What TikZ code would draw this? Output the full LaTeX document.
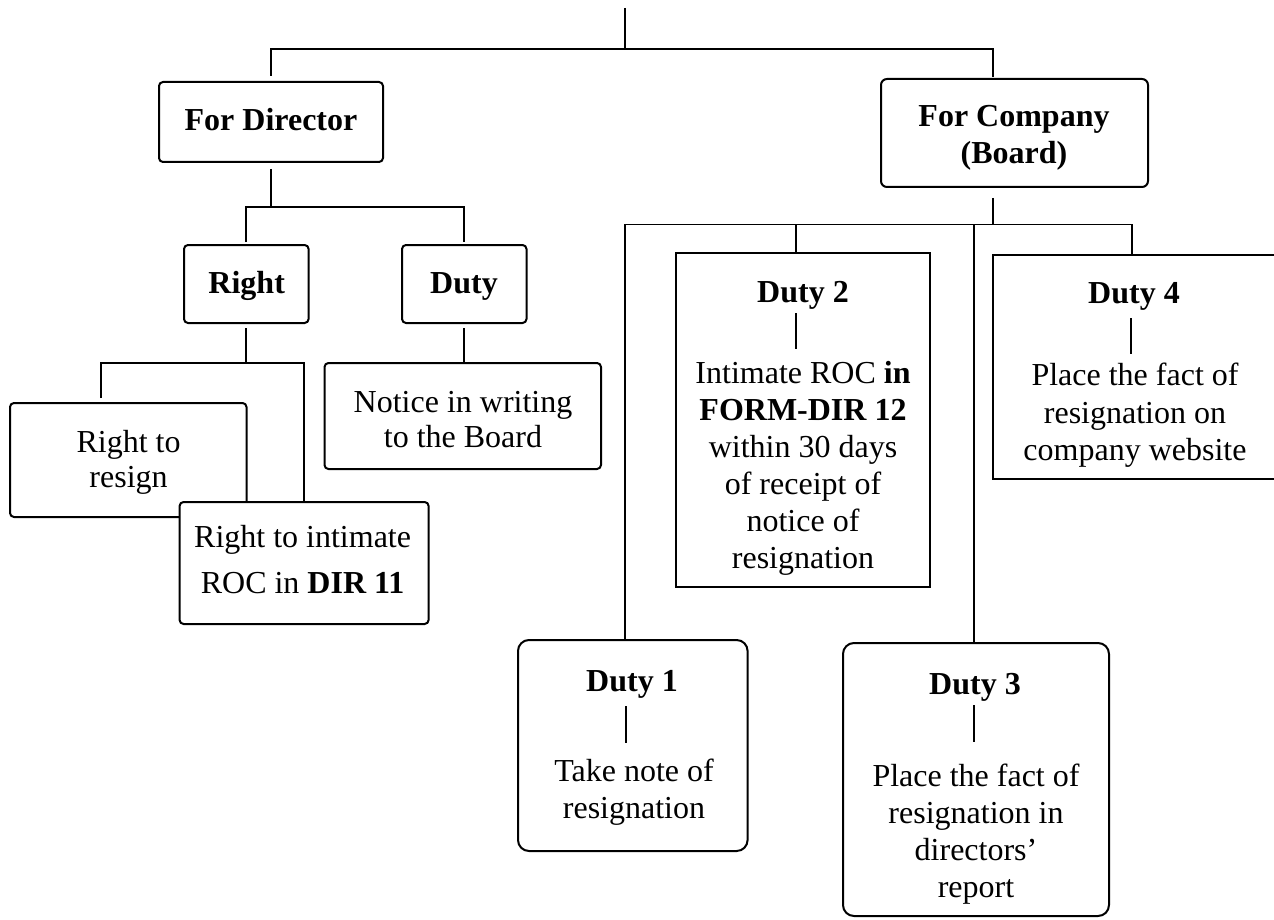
\documentclass[tikz,border=0pt]{standalone}
\usepackage{fontspec}
\setmainfont{Liberation Serif}
\begin{document}
\begin{tikzpicture}[x=1pt,y=-1pt,
  box/.style={draw, line width=2pt, rounded corners=4pt, inner sep=0pt, fill=white},
  sqbox/.style={draw, line width=2pt, inner sep=0pt, fill=white},
  bigbox/.style={box, rounded corners=11pt},
  txt/.style={inner sep=0pt, align=center, font=\fontsize{32}{37}\selectfont,
    execute at begin node=\strut, execute at end node=\strut},
  conn/.style={line width=1.8pt},
  tick/.style={line width=1.6pt}]
\useasboundingbox (0,0) rectangle (1274,920);

% ---- boxes ----
\node[box, minimum width=224pt, minimum height=80pt] (dir) at (271,122) {};
\node[box, rounded corners=6pt, minimum width=267pt, minimum height=108pt] (comp) at (1014.5,133) {};
\node[box, minimum width=124.6pt, minimum height=78pt] (right) at (246.3,284) {};
\node[box, minimum width=124.5pt, minimum height=78pt] (duty) at (464.25,284) {};
\node[box, minimum width=236.5pt, minimum height=114pt] (resign) at (128.25,460) {};
\node[box, minimum width=249pt, minimum height=122pt] (intimate) at (304.1,563) {};
\node[box, minimum width=276.5pt, minimum height=106pt] (notice) at (462.75,416) {};
\node[sqbox, minimum width=254pt, minimum height=334pt] (d2) at (803,420) {};
\node[sqbox, minimum width=287pt, minimum height=224pt] (d4) at (1136.5,367) {};
\node[bigbox, minimum width=229.6pt, minimum height=211pt] (d1) at (632.8,745.5) {};
\node[bigbox, minimum width=266pt, minimum height=273pt] (d3) at (976,779.5) {};

% ---- texts ----
\node[txt] (dirT) at (271,123) {\bfseries For Director};
\node[txt] (compT) at (1014,139.6) {\bfseries For Company\\\bfseries (Board)};
\node[txt] (rightT) at (246.7,286) {\bfseries Right};
\node[txt] (dutyT) at (464,286) {\bfseries Duty};
\node[txt, font=\fontsize{32}{35}\selectfont] (resignT) at (128.6,464.3) {Right to\\resign};
\node[txt, font=\fontsize{32}{46}\selectfont] (intimateT) at (302.6,566.3) {Right to intimate\\ROC in \textbf{DIR 11}};
\node[txt, font=\fontsize{32}{35}\selectfont] (noticeT) at (463,424.3) {Notice in writing\\to the Board};
\node[txt] (d2t) at (803,295.1) {\bfseries Duty 2};
\node[txt] (d2b) at (803,470.6) {Intimate ROC \textbf{in}\\\textbf{FORM-DIR 12}\\within 30 days\\of receipt of\\notice of\\resignation};
\node[txt] (d4t) at (1134,296.1) {\bfseries Duty 4};
\node[txt, font=\fontsize{32}{37.5}\selectfont] (d4b) at (1135,417.5) {Place the fact of\\resignation on\\company website};
\node[txt] (d1t) at (632,684.1) {\bfseries Duty 1};
\node[txt] (d1b) at (634,794.6) {Take note of\\resignation};
\node[txt] (d3t) at (975,687.1) {\bfseries Duty 3};
\node[txt, font=\fontsize{32}{36.7}\selectfont] (d3b) at (976,836.2) {Place the fact of\\resignation in\\directors’\\report};

% ---- junction points ----
\coordinate (top) at (625,8);
\coordinate (hub) at (625,49);
\coordinate (dirIn) at (271,76);
\coordinate (compIn) at (993,77);
\coordinate (dirJ) at (271,207);
\coordinate (rJ) at (246.3,363);
\coordinate (resignIn) at (101,398);
\coordinate (cJ) at (993,224.5);
\coordinate (cL) at (625,224.5);
\coordinate (c2) at (796,224.5);
\coordinate (c3) at (974,224.5);
\coordinate (cR) at (1132,224.5);

% ---- tree connectors ----
\draw[conn] (top) -- (hub);
\draw[conn] (dirIn) |- (hub) -| (compIn);
\draw[conn] ([yshift=-6pt]dir.south) -- (dirJ);
\draw[conn] ([yshift=2pt]right.north) |- (dirJ) -| ([yshift=2pt]duty.north);
\draw[conn] ([yshift=-4pt]right.south) -- (rJ);
\draw[conn] (resignIn) |- (rJ) -| (intimate.north);
\draw[conn] ([yshift=-4pt]duty.south) -- (duty.south |- notice.north);
\draw[conn] ([yshift=-10pt]comp.south -| cJ) -- (cJ);
\draw[conn] (cL) -- (cR);
\draw[conn] (cL) -- (cL |- d1.north);
\draw[conn] (c2) -- (c2 |- d2.north);
\draw[conn] (c3) -- (c3 |- d3.north);
\draw[conn] (cR) -- (cR |- d4.north);

% ---- short rules between heading and body ----
\coordinate (d2a) at (796,313);   \coordinate (d2z) at (796,349);
\coordinate (d4a) at (1131,318);  \coordinate (d4z) at (1131,354);
\coordinate (d1a) at (625.7,706); \coordinate (d1z) at (625.7,743);
\coordinate (d3a) at (974,705);   \coordinate (d3z) at (974,742);
\draw[tick] (d2a) -- (d2z);
\draw[tick] (d4a) -- (d4z);
\draw[tick] (d1a) -- (d1z);
\draw[tick] (d3a) -- (d3z);
\end{tikzpicture}
\end{document}
